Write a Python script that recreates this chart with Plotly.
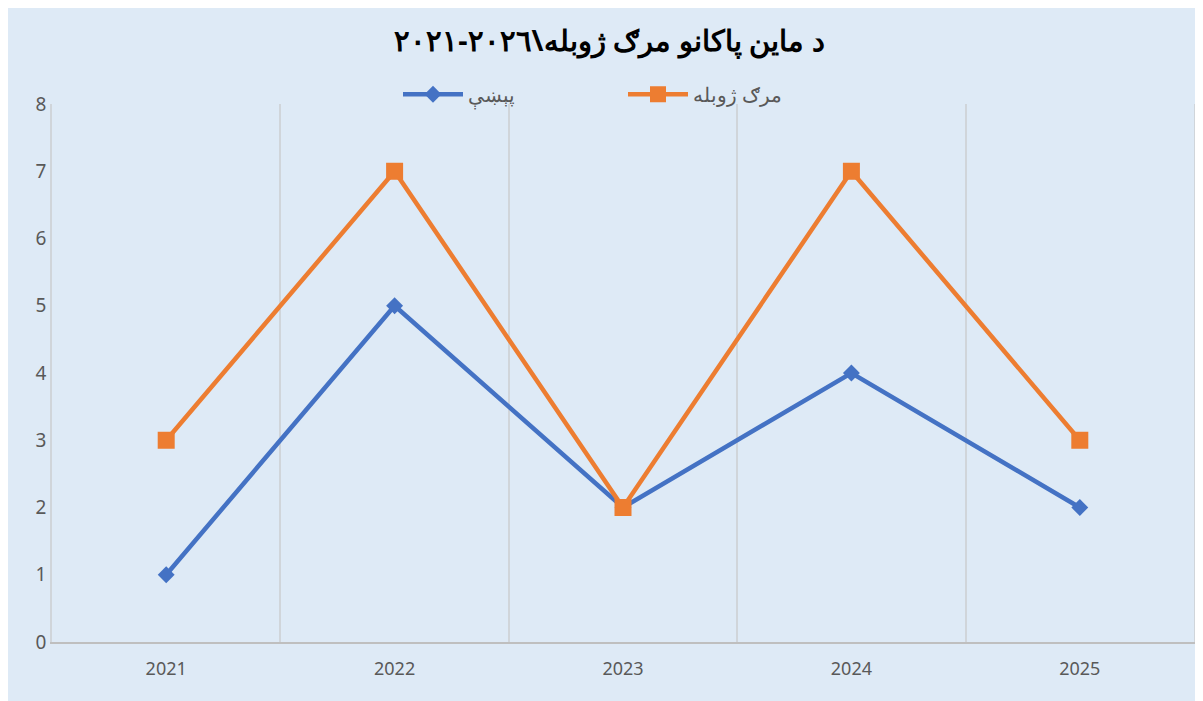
import plotly.graph_objects as go

years = ["2021", "2022", "2023", "2024", "2025"]
incidents = [1, 5, 2, 4, 2]
casualties = [3, 7, 2, 7, 3]
title = "د ماین پاکانو مرګ ژوبله\\٢٠٢٦-٢٠٢١"
name_inc = "پېښې"
name_cas = "مرګ ژوبله"

xs = list(range(len(years)))
fig = go.Figure()
fig.add_trace(go.Scatter(x=xs, y=incidents, name=name_inc, mode="lines+markers",
                         line=dict(color="#4472C4", width=4.5),
                         marker=dict(symbol="diamond", size=13, color="#4472C4")))
fig.add_trace(go.Scatter(x=xs, y=casualties, name=name_cas, mode="lines+markers",
                         line=dict(color="#ED7D31", width=4.5),
                         marker=dict(symbol="square", size=17, color="#ED7D31")))
fig.update_layout(
    width=1203, height=701, paper_bgcolor="#DEEAF6", plot_bgcolor="#DEEAF6",
    margin=dict(l=44, r=17, t=96, b=67),
    title=dict(text="<b>" + title + "</b>", x=0.5, y=0.953, xanchor="center", yanchor="middle",
               font=dict(family="Noto Sans", size=29, color="black")),
    legend=dict(orientation="h", x=0.5, xanchor="center", y=1.018, yanchor="middle",
                font=dict(family="Noto Sans", size=20, color="#595959"), bgcolor="rgba(0,0,0,0)",
                entrywidth=150, itemwidth=60),
    showlegend=True,
)
fig.update_xaxes(range=[-0.5, 4.5], tickvals=xs, ticktext=years, showgrid=False, zeroline=False,
                 showline=True, linecolor="#BFBFBF", linewidth=1.5,
                 tickfont=dict(family="Noto Sans", size=18, color="#595959"), ticklabelstandoff=10,
                 minor=dict(tick0=0.5, dtick=1, showgrid=True, gridcolor="#D0D5DA", gridwidth=1.5))
fig.update_yaxes(range=[0, 8], dtick=1, showgrid=False, zeroline=False,
                 showline=True, mirror=True, linecolor="#D0D5DA", linewidth=1.5,
                 tickfont=dict(family="Noto Sans", size=19, color="#595959"))
fig.write_html("out.html")
